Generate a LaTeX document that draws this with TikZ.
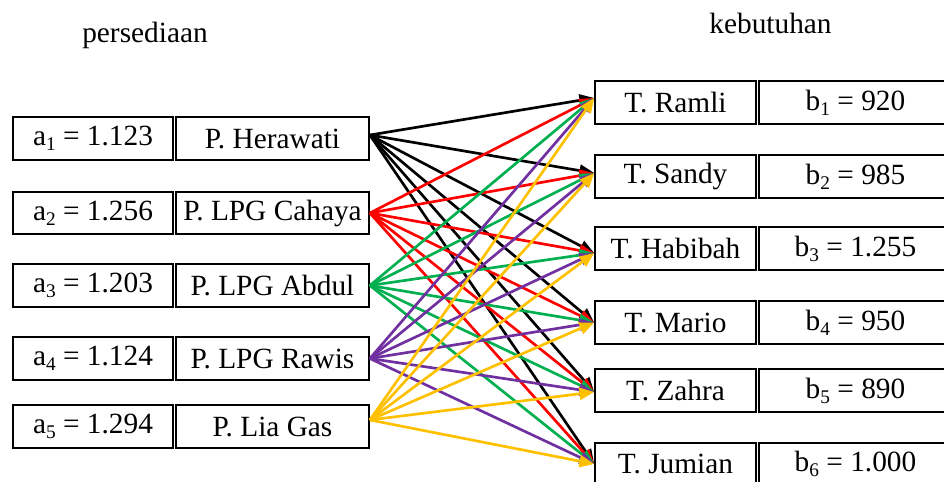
\documentclass[tikz,border=0pt]{standalone}
\usepackage{fontspec}
\setmainfont{Liberation Serif}
\usetikzlibrary{arrows.meta}
\definecolor{cgreen}{HTML}{00B050}
\definecolor{cpurple}{HTML}{7030A0}
\definecolor{cyellow}{HTML}{FFC000}
\newcommand\mysubs[1]{\raisebox{-0.17em}{\fontsize{14.5}{16}\selectfont #1}}
\begin{document}
\begin{tikzpicture}[x=0.75pt,y=-0.75pt,
  box/.style={draw=black,line width=1.3pt,minimum height=32pt,inner sep=0pt,font=\fontsize{22}{26}\selectfont},
  abox/.style={box,minimum width=120pt},
  pbox/.style={box,minimum width=144.75pt},
  tbox/.style={box,minimum width=120.75pt},
  bbox/.style={box,minimum width=144.75pt},
  ttl/.style={font=\fontsize{22}{26}\selectfont,inner sep=0pt},
  conn/.style={line width=2pt,-{Triangle[length=11pt,width=9pt]}}]
\useasboundingbox (0,0) rectangle (944,481);
\clip (0,0) rectangle (944,481);
\node[ttl] (tleft) at (145,35) {persediaan};
\node[ttl] (tright) at (770.5,23) {kebutuhan};
% left side
\node[abox] (a1) at (93,138.5) {a\mysubs{1} = 1.123};
\node[pbox] (p1) at (272.5,138.5) {P. Herawati};
\node[abox] (a2) at (93,213) {a\mysubs{2} = 1.256};
\node[pbox] (p2) at (272.5,213) {P. LPG Cahaya};
\node[abox] (a3) at (93,285.5) {a\mysubs{3} = 1.203};
\node[pbox] (p3) at (272.5,285.5) {P. LPG Abdul};
\node[abox] (a4) at (93,358.5) {a\mysubs{4} = 1.124};
\node[pbox] (p4) at (272.5,358.5) {P. LPG Rawis};
\node[abox] (a5) at (93,426.5) {a\mysubs{5} = 1.294};
\node[pbox] (p5) at (272.5,426.5) {P. Lia Gas};
% right side
\node[tbox] (t1) at (675.5,102.5) {T. Ramli};
\node[bbox] (b1) at (855.5,102.5) {b\mysubs{1} = 920};
\node[tbox] (t2) at (675.5,176.5) {T. Sandy};
\node[bbox] (b2) at (855.5,176.5) {b\mysubs{2} = 985};
\node[tbox] (t3) at (675.5,248.5) {T. Habibah};
\node[bbox] (b3) at (855.5,248.5) {b\mysubs{3} = 1.255};
\node[tbox] (t4) at (675.5,322.5) {T. Mario};
\node[bbox] (b4) at (855.5,322.5) {b\mysubs{4} = 950};
\node[tbox] (t5) at (675.5,390.5) {T. Zahra};
\node[bbox] (b5) at (855.5,390.5) {b\mysubs{5} = 890};
\node[tbox] (t6) at (675.5,464) {T. Jumian};
\node[bbox] (b6) at (855.5,464) {b\mysubs{6} = 1.000};
% connector end points
\coordinate (s1) at ([yshift=2.6pt]p1.east);
\coordinate (s2) at (p2.east);
\coordinate (s3) at (p3.east);
\coordinate (s4) at (p4.east);
\coordinate (s5) at ([yshift=4.9pt]p5.east);
\coordinate (e1) at ([yshift=3.4pt]t1.west);
\coordinate (e2) at ([yshift=2.6pt]t2.west);
\coordinate (e3) at ([yshift=-3.4pt]t3.west);
\coordinate (e4) at (t4.west);
\coordinate (e5) at ([yshift=-1.1pt]t5.west);
\coordinate (e6) at (t6.west);
\foreach \s/\c in {1/black,2/red,3/cgreen,4/cpurple,5/cyellow}{
  \foreach \e in {1,...,6}{
    \draw[conn,draw=\c,fill=\c] (s\s) -- (e\e);
  }
}
\end{tikzpicture}
\end{document}
